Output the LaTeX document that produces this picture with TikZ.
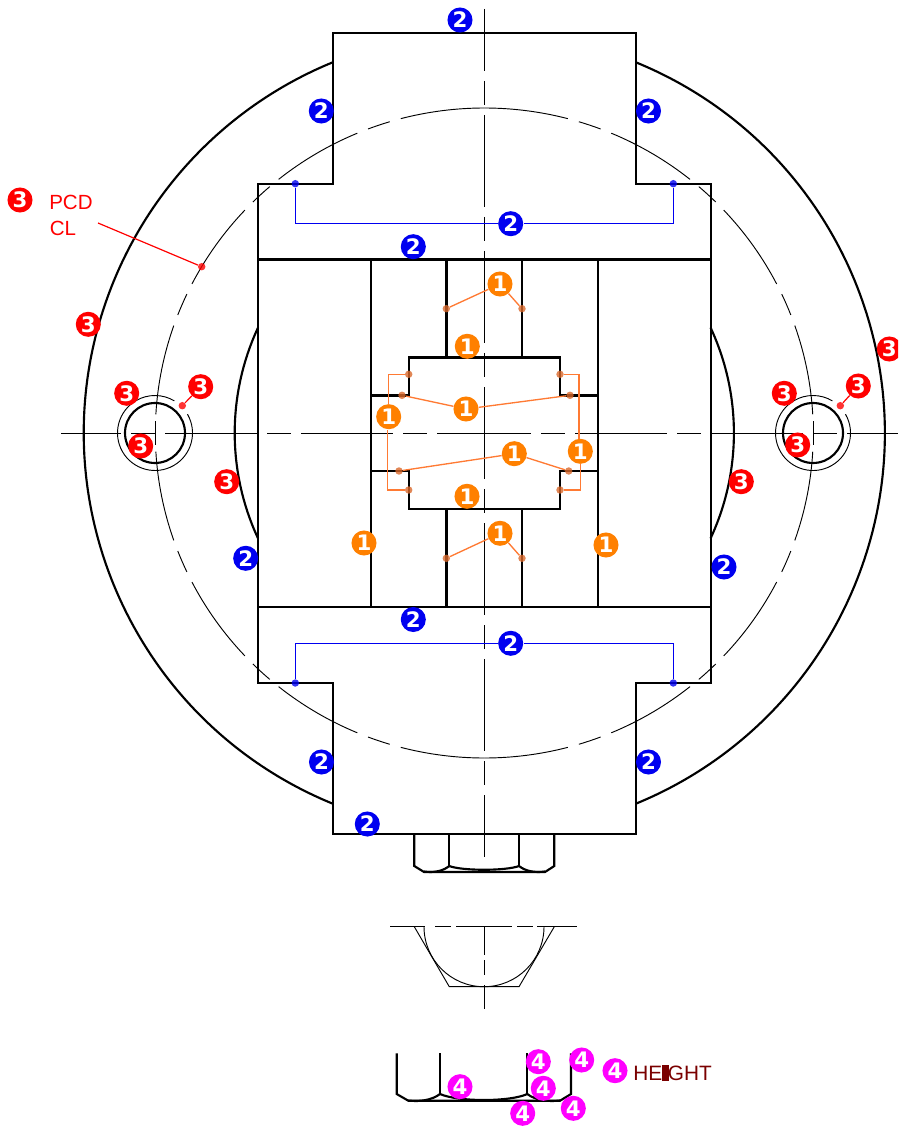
\documentclass[tikz,border=0pt]{standalone}
\usepackage{fontspec}
\setmainfont{Liberation Sans}
\newfontfamily\badgefont{DejaVu Sans Bold}
\definecolor{cblue}{HTML}{0000F0}
\definecolor{cred}{HTML}{FF0000}
\definecolor{corange}{HTML}{FF8000}
\definecolor{cmag}{HTML}{FF00FF}
\definecolor{lorange}{HTML}{FF7A33}
\definecolor{cdark}{HTML}{7A0000}
\tikzset{
  heavy/.style={line width=1.6pt,black,line join=miter},
  fine/.style={line width=0.7pt,black},
  badge/.style={circle,inner sep=0pt,minimum size=18.8pt,text=white,font=\badgefont\fontsize{16pt}{16pt}\selectfont},
  b1/.style={badge,fill=corange},
  b2/.style={badge,fill=cblue},
  b3/.style={badge,fill=cred},
  b4/.style={badge,fill=cmag},
  tip/.style={circle,inner sep=0pt,minimum size=5.6pt,fill opacity=0.8},
  torange/.style={tip,fill=lorange!85!black},
  tred/.style={tip,fill=cred},
  tblue/.style={tip,fill=cblue},
  lo/.style={line width=1pt,lorange},
  lb/.style={line width=0.9pt,cblue},
  lr/.style={line width=0.9pt,cred},
  lab/.style={inner sep=0pt,anchor=west,font=\fontsize{15.4pt}{15.4pt}\selectfont}
}
\begin{document}
\begin{tikzpicture}[x=0.75pt,y=-0.75pt]
\useasboundingbox (0,0) rectangle (898,1126);
\clip (0,0) rectangle (898,1126);
\coordinate (c) at (484.3,433);
% outer and inner arcs
\draw[heavy] (c) ++(-67.7:400.5) arc[start angle=-67.7,end angle=67.7,radius=400.5];
\draw[heavy] (c) ++(112.3:400.5) arc[start angle=112.3,end angle=247.7,radius=400.5];
\draw[heavy] (c) ++(-25:249.6) arc[start angle=-25,end angle=25,radius=249.6];
\draw[heavy] (c) ++(155:249.6) arc[start angle=155,end angle=205,radius=249.6];
% PCD curve
\foreach \a/\b in {0/14.7,16.7/20.7,22.7/38.7,40.7/44.7,46.7/62.7,64.7/68.7,70.7/86.7}{
  \foreach \s/\o in {1/-90,-1/-90,-1/90,1/90}{
    \pgfmathsetmacro{\ta}{\o+\s*\a}
    \pgfmathsetmacro{\tb}{\o+\s*\b}
    \draw[fine] (c) ++({329*cos(\ta)},{325*sin(\ta)}) arc[start angle=\ta,end angle=\tb,x radius=329,y radius=325];
  }
}
% centre lines
\foreach \a/\b in {9/71,81/105,115/207,217/241,251/343,353/377,387/479,489/513,523/615,625/649,659/751,761/785,795/857,927/955,960/975,985/1009}
  \draw[fine] (484,\a) -- (484,\b);
\foreach \a/\b in {61/121,131/155,165/257,267/291,301/393,403/427,437/531,541/565,575/667,677/701,711/803,813/837,847/898}
  \draw[fine] (\a,433) -- (\b,433);
\draw[fine] (155,421) -- (155,445);
\draw[fine] (813,421) -- (813,445);
% holes
\foreach \x in {155,813}{
  \draw[heavy] (\x,433) circle[radius=30];
  \draw[fine] (\x,433) ++(-30:37.5) arc[start angle=-30,end angle=301,radius=37.5];
}
% body
\draw[heavy] (333,33) -- (636,33) -- (636,184) -- (711.3,184) -- (711.3,683) -- (636,683) -- (636,834) -- (333,834) -- (333,683) -- (257.7,683) -- (257.7,184) -- (333,184) -- cycle;
\draw[heavy] (257.7,259.5) -- (711.3,259.5);
\draw[heavy] (257.7,607) -- (711.3,607);
\draw[heavy] (371,259.5) -- (371,607);
\draw[heavy] (598,259.5) -- (598,607);
\draw[heavy] (446.5,259.5) -- (446.5,357.5);
\draw[heavy] (522,259.5) -- (522,357.5);
\draw[heavy] (446.5,509) -- (446.5,607);
\draw[heavy] (522,509) -- (522,607);
\draw[heavy] (371,395.5) -- (408.7,395.5) -- (408.7,357.5) -- (560,357.5) -- (560,395.5) -- (598,395.5);
\draw[heavy] (371,471) -- (408.7,471) -- (408.7,509) -- (560,509) -- (560,471) -- (598,471);
% bolt head
\draw[heavy] (414.3,834) -- (414.3,866) -- (424,872) -- (545,872) -- (554.3,866) -- (554.3,834);
\draw[heavy] (449.3,834) -- (449.3,866);
\draw[heavy] (519,834) -- (519,866);
\draw[heavy] (424,871.5) .. controls (434,873) and (443,871) .. (449.3,866);
\draw[heavy] (545,871.5) .. controls (535,873) and (525,871) .. (519,866);
\draw[heavy] (449.3,866) .. controls (462,871) and (506,871) .. (519,866);
\draw[fine] (449.3,866) -- (440,871);
\draw[fine] (519,866) -- (528,871);
% section
\foreach \a/\b in {390/425,435/451,456/512,517/533,537/577}
  \draw[fine] (\a,926.7) -- (\b,926.7);
\draw[fine] (414.3,926.7) -- (449.3,986.7) -- (519,986.7) -- (554.3,926.7);
\draw[fine] (424,926.7) arc[start angle=180,end angle=0,radius=60];
% lower fragment
\draw[heavy] (396.7,1053.3) -- (396.7,1094) -- (408.3,1100.7) -- (560,1100.7) -- (571,1094) -- (571,1053.3);
\draw[heavy] (440,1053.3) -- (440,1094);
\draw[heavy] (527.3,1053.3) -- (527.3,1094);
\draw[heavy] (408.3,1100.5) .. controls (420,1102) and (432,1100) .. (440,1094);
\draw[heavy] (440,1094) .. controls (458,1102) and (510,1102) .. (527.3,1094);
\draw[heavy] (527.3,1094) .. controls (535,1100) and (548,1102) .. (560,1100.5);
% badges 2
\node[b2] (t1) at (460,20) {2};
\node[b2] (t2) at (321.3,111) {2};
\node[b2] (t3) at (648.5,111) {2};
\node[b2] (t4) at (510.7,223.7) {2};
\node[b2] (t5) at (413.3,246.7) {2};
\node[b2] (t6) at (245.7,558.3) {2};
\node[b2] (t7) at (724,567) {2};
\node[b2] (t8) at (413.3,619.5) {2};
\node[b2] (t9) at (510.7,643.3) {2};
\node[b2] (t10) at (321.5,762) {2};
\node[b2] (t11) at (648.5,762) {2};
\node[b2] (t12) at (367.3,824) {2};
\node[tblue] (bd1) at (295.3,183.7) {};
\node[tblue] (bd2) at (673.3,183.7) {};
\node[tblue] (bd3) at (295.3,683) {};
\node[tblue] (bd4) at (673.3,683) {};
\draw[lb] (bd1) |- (t4.west);
\draw[lb] (bd2) |- (t4.east);
\draw[lb] (bd3) |- (t9.west);
\draw[lb] (bd4) |- (t9.east);
% badges 1
\node[b1] (o1) at (500,284) {1};
\node[b1] (o2) at (467.3,346.3) {1};
\node[b1] (o3) at (466,409) {1};
\node[b1] (o4) at (388.7,416.7) {1};
\node[b1] (o5) at (514.3,453.7) {1};
\node[b1] (o6) at (580.3,451.3) {1};
\node[b1] (o7) at (467,496.3) {1};
\node[b1] (o8) at (500,533.3) {1};
\node[b1] (o9) at (364,543) {1};
\node[b1] (o10) at (606,545) {1};
\node[torange] (d1) at (446.3,308.7) {};
\node[torange] (d2) at (522,308.7) {};
\node[torange] (d3) at (408.7,374.3) {};
\node[torange] (d4) at (560,374.3) {};
\node[torange] (d5) at (402,395.3) {};
\node[torange] (d6) at (570,395.3) {};
\node[torange] (d7) at (399,471) {};
\node[torange] (d8) at (568.7,471) {};
\node[torange] (d9) at (408.7,490) {};
\node[torange] (d10) at (560,490) {};
\node[torange] (d11) at (446.3,558.3) {};
\node[torange] (d12) at (522,558.3) {};
\draw[lo] (o1) -- (d1);
\draw[lo] (o1) -- (d2);
\draw[lo] (o3) -- (d5);
\draw[lo] (o3) -- (d6);
\draw[lo] (o5) -- (d7);
\draw[lo] (o5) -- (d8);
\draw[lo] (o8) -- (d11);
\draw[lo] (o8) -- (d12);
\draw[lo] (d3) -| (o4.north);
\draw[lo] (d9) -| ([xshift=-0.7pt]o4.south);
\draw[lo] (d4) -| ([xshift=-0.9pt]o6.north);
\draw[lo] (d10) -| (o6.south);
% badges 3
\node[b3] (r1) at (20,200) {3};
\node[b3] (r2) at (88.3,324.3) {3};
\node[b3] (r3) at (126.7,393.3) {3};
\node[b3] (r4) at (200.7,386.7) {3};
\node[b3] (r5) at (140.7,446) {3};
\node[b3] (r6) at (226.7,481.7) {3};
\node[b3] (r7) at (889.3,349) {3};
\node[b3] (r8) at (784.3,393.3) {3};
\node[b3] (r9) at (858.3,386) {3};
\node[b3] (r10) at (797.7,445) {3};
\node[b3] (r11) at (741.3,481.7) {3};
\node[tred] (rd1) at (182.3,405.7) {};
\node[tred] (rd2) at (840.3,405.7) {};
\node[tred] (rd3) at (201.7,266.7) {};
\draw[lr] (r4) -- (rd1);
\draw[lr] (r9) -- (rd2);
\node[lab,text=cred] (pcd) at (49,202) {PCD};
\node[lab,text=cred] (cl) at (49.5,228) {CL};
\coordinate (clend) at (98,223);
\draw[lr] (clend) -- (rd3);
% badges 4
\node[b4] (m1) at (460,1086.7) {4};
\node[b4] (m2) at (538.3,1061.7) {4};
\node[b4] (m3) at (543.3,1088.3) {4};
\node[b4] (m4) at (581.7,1060) {4};
\node[b4] (m5) at (615,1070.7) {4};
\node[b4] (m6) at (522.7,1113.3) {4};
\node[b4] (m7) at (573.3,1108.3) {4};
\node[lab,text=cdark,font=\fontsize{15.6pt}{15.6pt}\selectfont] (hgt) at (633,1073) {HE\makebox[0pt][l]{\hspace{0.2pt}\rule[-0.3pt]{4.6pt}{12pt}}IGHT};
\end{tikzpicture}
\end{document}
